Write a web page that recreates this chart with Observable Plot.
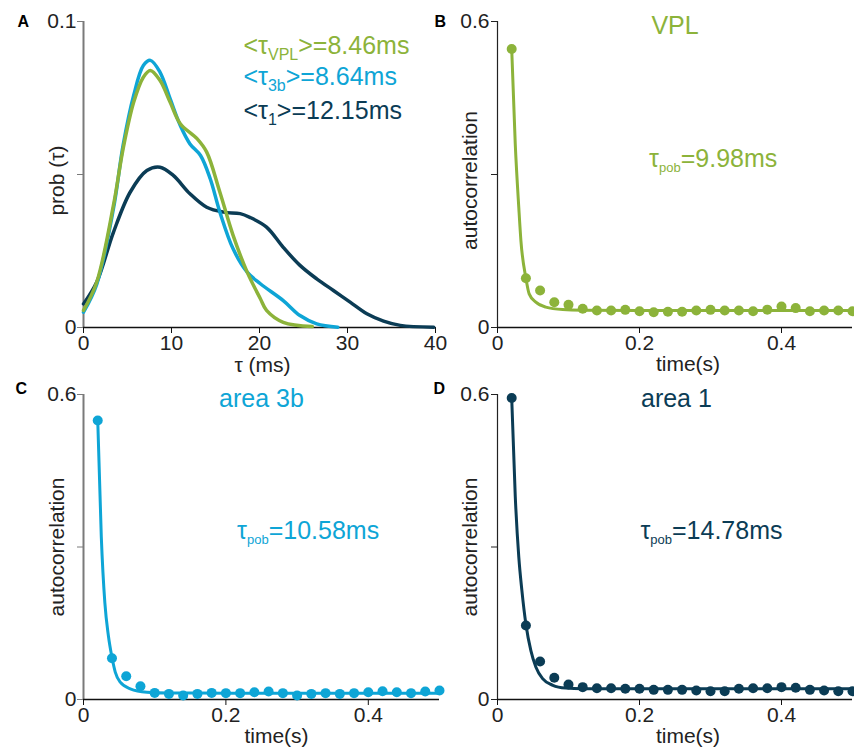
<!DOCTYPE html>
<html>
<head>
<meta charset="utf-8">
<script src="https://cdn.jsdelivr.net/npm/d3@7"></script>
<script src="https://cdn.jsdelivr.net/npm/@observablehq/plot@0.6"></script>
<style>
  html, body { margin: 0; padding: 0; background: #fff; }
  #root { position: relative; width: 854px; height: 747px; overflow: hidden; background: #fff; }
  #root > svg { position: absolute; }
</style>
</head>
<body>
<div id="root"></div>
<script>
// ---------- data ----------
// Panel A: distribution of single-neuron timescales (tau in ms)
const tauVPL  = [0, 1.5, 3.4, 4.5, 5.7, 6.8, 7.6, 8.7, 9.85, 11.0, 12.9, 14.0, 15.5, 17.0, 18.6, 20.1, 20.8, 22.7, 26.0];
const probVPL = [0.0056, 0.0148, 0.0399, 0.0584, 0.0736, 0.0818, 0.0840, 0.0807, 0.0736, 0.0666, 0.0617, 0.0573, 0.0442, 0.0301, 0.0181, 0.0094, 0.0056, 0.0017, 0.0003];

const tau3b  = [0, 1.5, 3.4, 4.5, 5.7, 6.8, 7.6, 8.7, 9.85, 11.0, 12.1, 13.3, 14.4, 15.5, 17.0, 18.6, 20.1, 22.7, 24.6, 26.5, 28.9];
const prob3b = [0.0050, 0.0141, 0.0388, 0.0595, 0.0758, 0.0856, 0.0873, 0.0834, 0.0747, 0.0660, 0.0600, 0.0562, 0.0486, 0.0377, 0.0257, 0.0181, 0.0143, 0.0088, 0.0039, 0.0012, 0.0001];

const tau1  = [0, 1.5, 3.4, 5.3, 7.2, 8.7, 10.2, 12.1, 14.0, 15.9, 17.8, 18.9, 20.8, 22.7, 24.6, 26.5, 28.4, 30.3, 32.2, 34.1, 36.0, 39.8];
const prob1 = [0.0077, 0.0148, 0.0311, 0.0442, 0.0513, 0.0524, 0.0497, 0.0437, 0.0393, 0.0377, 0.0372, 0.0360, 0.0328, 0.0262, 0.0203, 0.0159, 0.0121, 0.0083, 0.0045, 0.0021, 0.0007, 0.0001];

const meanLabels = ["<τ|VPL|>=8.46ms", "<τ|3b|>=8.64ms", "<τ|1|>=12.15ms"];

// Panels B-D: population autocorrelation (time lag in s)
const lag = [0.02, 0.04, 0.06, 0.08, 0.10, 0.12, 0.14, 0.16, 0.18, 0.20, 0.22, 0.24, 0.26, 0.28, 0.30, 0.32, 0.34, 0.36, 0.38, 0.40, 0.42, 0.44, 0.46, 0.48, 0.50];
const acVPL = [0.546, 0.0966, 0.0725, 0.0496, 0.0444, 0.0366, 0.0333, 0.0333, 0.0346, 0.032, 0.030, 0.031, 0.031, 0.0333, 0.0346, 0.0333, 0.0333, 0.032, 0.035, 0.0411, 0.038, 0.032, 0.0333, 0.0333, 0.032];
const ac3b  = [0.549, 0.0813, 0.0459, 0.026, 0.013, 0.011, 0.008, 0.011, 0.013, 0.0125, 0.0125, 0.0144, 0.0157, 0.0125, 0.008, 0.011, 0.0125, 0.011, 0.0125, 0.0144, 0.0164, 0.0144, 0.0125, 0.0157, 0.0177];
const ac1   = [0.593, 0.1456, 0.0748, 0.0427, 0.0295, 0.0243, 0.0223, 0.0223, 0.021, 0.021, 0.019, 0.019, 0.019, 0.0177, 0.0164, 0.0164, 0.021, 0.0223, 0.0223, 0.0243, 0.023, 0.019, 0.0177, 0.0164, 0.0164];

// fitted exponential curves
const fitT_VPL = [0.02, 0.025, 0.03, 0.033, 0.04, 0.0446, 0.054, 0.068, 0.092, 0.12, 0.2, 0.3, 0.4, 0.5];
const fitV_VPL = [0.546, 0.36, 0.235, 0.17, 0.097, 0.066, 0.0496, 0.040, 0.0353, 0.034, 0.0333, 0.0333, 0.0333, 0.0333];
const fitT_3b = [0.02, 0.025, 0.03, 0.035, 0.04, 0.0446, 0.0516, 0.0657, 0.089, 0.12, 0.2, 0.3, 0.4, 0.5];
const fitV_3b = [0.549, 0.32, 0.19, 0.125, 0.083, 0.054, 0.034, 0.021, 0.0144, 0.0127, 0.0125, 0.0125, 0.0125, 0.0125];
const fitT_1 = [0.02, 0.025, 0.03, 0.0343, 0.04, 0.047, 0.054, 0.0635, 0.078, 0.096, 0.12, 0.2, 0.3, 0.4, 0.5];
const fitV_1 = [0.593, 0.40, 0.28, 0.215, 0.148, 0.096, 0.064, 0.041, 0.028, 0.0225, 0.021, 0.021, 0.021, 0.021, 0.021];

const titles = ["VPL", "area 3b", "area 1"];
const tauPop = ["τ|pob|=9.98ms", "τ|pob|=10.58ms", "τ|pob|=14.78ms"];
const panelLetters = ["A", "B", "C", "D"];
const tickTau = [0, 10, 20, 30, 40];
const tickProb = [0, 0.05, 0.1];
const tickTime = [0, 0.2, 0.4];
const tickAC = [0, 0.3, 0.6];

// ---------- style ----------
const FONT = "'Liberation Sans', Arial, Helvetica, sans-serif";
const GREEN = "#8cb33a", BLUE = "#0ea5d6", NAVY = "#0b3c55";
const TXT = "#222";

function subscripts(svg, subSize, shift) {
  d3.select(svg).selectAll("text").each(function () {
    const t = this.textContent;
    if (!t.includes("|")) return;
    const [a, b, c] = t.split("|");
    const sel = d3.select(this);
    sel.text(null);
    sel.append("tspan").text(a);
    sel.append("tspan").attr("font-size", subSize).attr("dy", shift).text(b);
    sel.append("tspan").attr("dy", -shift).text(c);
  });
}

function place(svg, left, top) {
  svg.style.left = left + "px";
  svg.style.top = top + "px";
  document.getElementById("root").appendChild(svg);
}

const baseStyle = {fontFamily: FONT, fontSize: "21px", color: TXT, background: "transparent", overflow: "visible"};

// ---------- Panel A ----------
{
  const svg = Plot.plot({
    width: 440, height: 375,
    marginLeft: 83, marginRight: 5, marginTop: 21, marginBottom: 48,
    style: baseStyle,
    x: {domain: [0, 40]},
    y: {domain: [0, 0.1]},
    marks: [
      Plot.axisY({ticks: tickProb, tickFormat: d => d === 0.05 ? "" : String(d), tickSize: 6, tickPadding: 1, stroke: "#7a7a7a", fill: TXT, label: null, fontSize: 21}),
      Plot.axisX({ticks: tickTau, tickFormat: d => String(d), tickSize: 6, tickPadding: 2, stroke: "#111", fill: TXT, label: null, fontSize: 21}),
      Plot.ruleX([0], {stroke: "#7a7a7a", strokeWidth: 2}),
      Plot.ruleY([0], {stroke: "#111", strokeWidth: 1.5}),
      Plot.line(tau1, {x: d => d, y: prob1, stroke: NAVY, strokeWidth: 3.5, curve: "catmull-rom"}),
      Plot.line(tau3b, {x: d => d, y: prob3b, stroke: BLUE, strokeWidth: 3.5, curve: "catmull-rom"}),
      Plot.line(tauVPL, {x: d => d, y: probVPL, stroke: GREEN, strokeWidth: 3.5, curve: "catmull-rom"}),
      Plot.text([meanLabels[0]], {text: d => d, x: 18.18, y: 0.0894, textAnchor: "start", lineAnchor: "bottom", fill: GREEN, fontSize: 25}),
      Plot.text([meanLabels[1]], {text: d => d, x: 18.18, y: 0.0791, textAnchor: "start", lineAnchor: "bottom", fill: BLUE, fontSize: 25}),
      Plot.text([meanLabels[2]], {text: d => d, x: 18.18, y: 0.0681, textAnchor: "start", lineAnchor: "bottom", fill: NAVY, fontSize: 25}),
      Plot.text(["prob (τ)"], {text: d => d, frameAnchor: "left", rotate: -90, dx: -20, dy: 6, textAnchor: "middle", lineAnchor: "bottom", fill: TXT, fontSize: 21}),
      Plot.text(["τ (ms)"], {text: d => d, frameAnchor: "bottom", dx: 3, dy: 44, textAnchor: "middle", lineAnchor: "bottom", fill: TXT, fontSize: 21}),
      Plot.text([panelLetters[0]], {text: d => d, frameAnchor: "top-left", dx: -66, dy: 5, textAnchor: "start", lineAnchor: "bottom", fill: "#000", fontWeight: "bold", fontSize: 16})
    ]
  });
  subscripts(svg, 16, 6);
  place(svg, 0, 0);
}

// ---------- Panels B, C, D ----------
function acPanel({left, top, width, height, mL, mR, mT, mB, color, axisColor, axisWidth, dots, fitT, fitV, title, tauText, tauX, titleX, letter, letterDx, letterDy, labDx, labDy, xLabDx, tickPad}) {
  const svg = Plot.plot({
    width, height,
    marginLeft: mL, marginRight: mR, marginTop: mT, marginBottom: mB,
    style: baseStyle,
    x: {domain: [0, 0.5]},
    y: {domain: [0, 0.6]},
    marks: [
      Plot.axisY({ticks: tickAC, tickFormat: d => d === 0.3 ? "" : String(d), tickSize: 6, tickPadding: tickPad, stroke: axisColor, fill: TXT, label: null, fontSize: 21}),
      Plot.axisX({ticks: tickTime, tickFormat: d => String(d), tickSize: 6, tickPadding: 2, stroke: "#111", fill: TXT, label: null, fontSize: 21}),
      Plot.ruleX([0], {stroke: axisColor, strokeWidth: axisWidth}),
      Plot.ruleY([0], {stroke: "#111", strokeWidth: 1.5}),
      Plot.line(fitT, {x: d => d, y: fitV, stroke: color, strokeWidth: 3, curve: "monotone-x"}),
      Plot.dot(lag, {x: d => d, y: dots, r: 5, fill: color, stroke: "none"}),
      Plot.text([title], {text: d => d, x: titleX, y: 0.576, textAnchor: "middle", lineAnchor: "bottom", fill: color, fontSize: 25}),
      Plot.text([tauText], {text: d => d, x: tauX, y: 0.315, textAnchor: "start", lineAnchor: "bottom", fill: color, fontSize: 25}),
      Plot.text(["autocorrelation"], {text: d => d, frameAnchor: "left", rotate: -90, dx: labDx, dy: labDy, textAnchor: "middle", lineAnchor: "bottom", fill: TXT, fontSize: 21}),
      Plot.text(["time(s)"], {text: d => d, frameAnchor: "bottom", dx: xLabDx, dy: 43, textAnchor: "middle", lineAnchor: "bottom", fill: TXT, fontSize: 21}),
      Plot.text([letter], {text: d => d, frameAnchor: "top-left", dx: letterDx, dy: letterDy, textAnchor: "start", lineAnchor: "bottom", fill: "#000", fontWeight: "bold", fontSize: 16})
    ]
  });
  subscripts(svg, 13, 5);
  place(svg, left, top);
}

acPanel({left: 427, top: 0, width: 427, height: 375, mL: 70, mR: 2, mT: 21, mB: 48,
  color: GREEN, axisColor: "#222", axisWidth: 1.2, dots: acVPL, fitT: fitT_VPL, fitV: fitV_VPL,
  title: titles[0], tauText: tauPop[0], tauX: 0.2135, titleX: 0.25,
  letter: panelLetters[1], letterDx: -63, letterDy: 5, labDx: -21, labDy: 6, xLabDx: 13, tickPad: 2});

acPanel({left: 0, top: 370, width: 440, height: 377, mL: 83, mR: 1, mT: 24, mB: 48,
  color: BLUE, axisColor: "#7a7a7a", axisWidth: 2, dots: ac3b, fitT: fitT_3b, fitV: fitV_3b,
  title: titles[1], tauText: tauPop[1], tauX: 0.2157, titleX: 0.25,
  letter: panelLetters[2], letterDx: -68, letterDy: -1, labDx: -20, labDy: 0, xLabDx: 15, tickPad: 1});

acPanel({left: 427, top: 370, width: 427, height: 377, mL: 70, mR: 2, mT: 24, mB: 48,
  color: NAVY, axisColor: "#222", axisWidth: 1.2, dots: ac1, fitT: fitT_1, fitV: fitV_1,
  title: titles[2], tauText: tauPop[2], tauX: 0.2013, titleX: 0.252,
  letter: panelLetters[3], letterDx: -64, letterDy: -1, labDx: -21, labDy: 0, xLabDx: 13, tickPad: 2});
</script>
</body>
</html>
